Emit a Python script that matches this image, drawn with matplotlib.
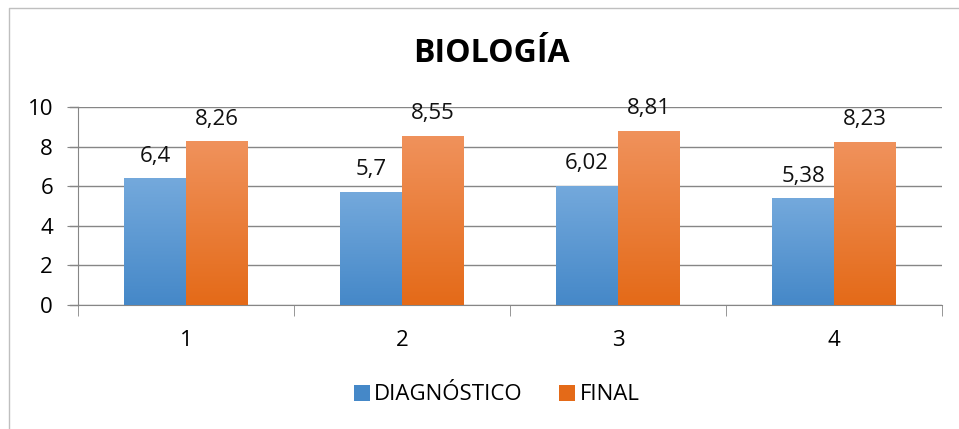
import matplotlib.pyplot as plt
import numpy as np
from matplotlib import colors
from matplotlib.lines import Line2D

plt.rcParams['font.family'] = ['Open Sans', 'DejaVu Sans']

categories = ['1', '2', '3', '4']
diagnostico = [6.4, 5.7, 6.02, 5.38]
final = [8.26, 8.55, 8.81, 8.23]
series_names = ['DIAGNÓSTICO', 'FINAL']

blue_top, blue_bottom = '#74a9dc', '#4588c8'
orange_top, orange_bottom = '#f0925c', '#e46a18'


def gradient_fill(ax, bars, top, bottom):
    """Paint a vertical gradient inside every bar of a container."""
    cmap = colors.LinearSegmentedColormap.from_list('g', [bottom, top])
    grad = np.linspace(0, 1, 256).reshape(-1, 1)
    for b in bars:
        x0, y0 = b.get_x(), b.get_y()
        w, h = b.get_width(), b.get_height()
        im = ax.imshow(grad, cmap=cmap, origin='lower', aspect='auto',
                       extent=(x0, x0 + w, y0, y0 + h), zorder=b.get_zorder())
        im.set_clip_path(b)
        b.set_facecolor('none')


fig = plt.figure(figsize=(9.59, 4.29), dpi=100)
ax = fig.add_axes([78 / 959, 1 - 305 / 429, 864 / 959, 198 / 429])

x = np.arange(len(categories))
w = 0.287
b1 = ax.bar(x - w / 2, diagnostico, w, color=blue_bottom, zorder=3, linewidth=0)
b2 = ax.bar(x + w / 2, final, w, color=orange_bottom, zorder=3, linewidth=0)
gradient_fill(ax, b1, blue_top, blue_bottom)
gradient_fill(ax, b2, orange_top, orange_bottom)

for bars, vals in ((b1, diagnostico), (b2, final)):
    for b, v in zip(bars, vals):
        ax.annotate(f'{v:g}'.replace('.', ','), (b.get_x() + b.get_width() / 2, v),
                    xytext=(0, 12), textcoords='offset points',
                    ha='center', va='baseline', fontsize=16, color='#111111')

ax.set_xlim(-0.5, len(categories) - 0.5)
ax.set_ylim(0, 10)
ax.set_yticks(range(0, 11, 2))
ax.set_xticks(x)
ax.set_xticklabels(categories)
ax.set_xticks(np.arange(-0.5, len(categories), 1), minor=True)
ax.tick_params(axis='x', which='major', length=0, pad=18, labelsize=16)
ax.tick_params(axis='x', which='minor', length=8, color='#868686', direction='out')
ax.tick_params(axis='y', length=8, color='#868686', pad=10, labelsize=16)
ax.grid(axis='y', color='#868686', linewidth=1, zorder=0)
for s in ('top', 'right'):
    ax.spines[s].set_visible(False)
for s in ('left', 'bottom'):
    ax.spines[s].set_color('#868686')

# gridlines reaching out to the tick marks on the left
for yv in range(0, 11, 2):
    ax.plot([-0.5 - 8 / 216, -0.5], [yv, yv], color='#868686', lw=1,
            clip_on=False, zorder=1)

fig.text(491 / 959, 1 - 53 / 429, 'BIOLOGÍA', ha='center', va='center',
         fontsize=23, fontweight='bold')

handles = [Line2D([], [], marker='s', linestyle='none', markersize=11,
                  markerfacecolor=c, markeredgewidth=0) for c in (blue_bottom, orange_bottom)]
fig.legend(handles, series_names, loc='center', bbox_to_anchor=(495 / 959, 1 - 395 / 429),
           ncol=2, frameon=False, fontsize=16, handletextpad=0.05, columnspacing=1.5,
           handlelength=1.0)

# chart border
fig.add_artist(Line2D([9 / 959, 9 / 959, 1], [0, 1 - 8 / 429, 1 - 8 / 429],
                      color='#bfbfbf', lw=1))

fig.savefig('out.png', dpi=100)
